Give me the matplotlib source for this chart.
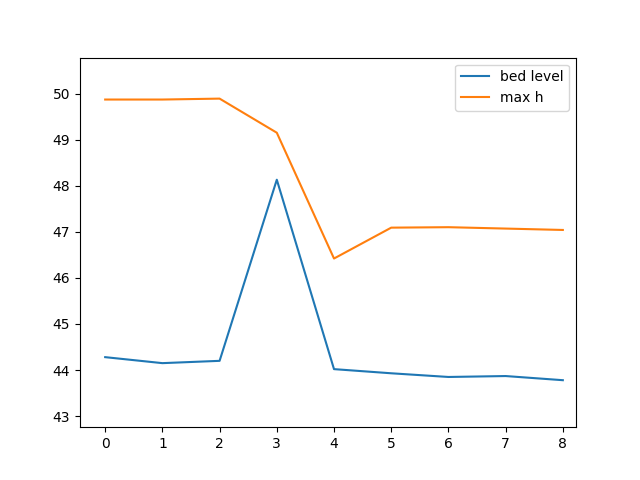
import matplotlib
matplotlib.use("Agg")
import matplotlib.pyplot as plt

x = [0, 1, 2, 3, 4, 5, 6, 7, 8]
bed_level = [44.28, 44.15, 44.20, 48.13, 44.02, 43.93, 43.85, 43.87, 43.78]
max_h = [49.87, 49.87, 49.89, 49.15, 46.42, 47.09, 47.10, 47.07, 47.04]

fig, ax = plt.subplots(figsize=(6.4, 4.8), dpi=100)
ax.plot(x, bed_level, label="bed level")
ax.plot(x, max_h, label="max h")
ax.set_xlim(-0.44, 8.23)
ax.set_ylim(42.76, 50.78)
ax.legend(loc="upper right")
fig.savefig("out.png")
